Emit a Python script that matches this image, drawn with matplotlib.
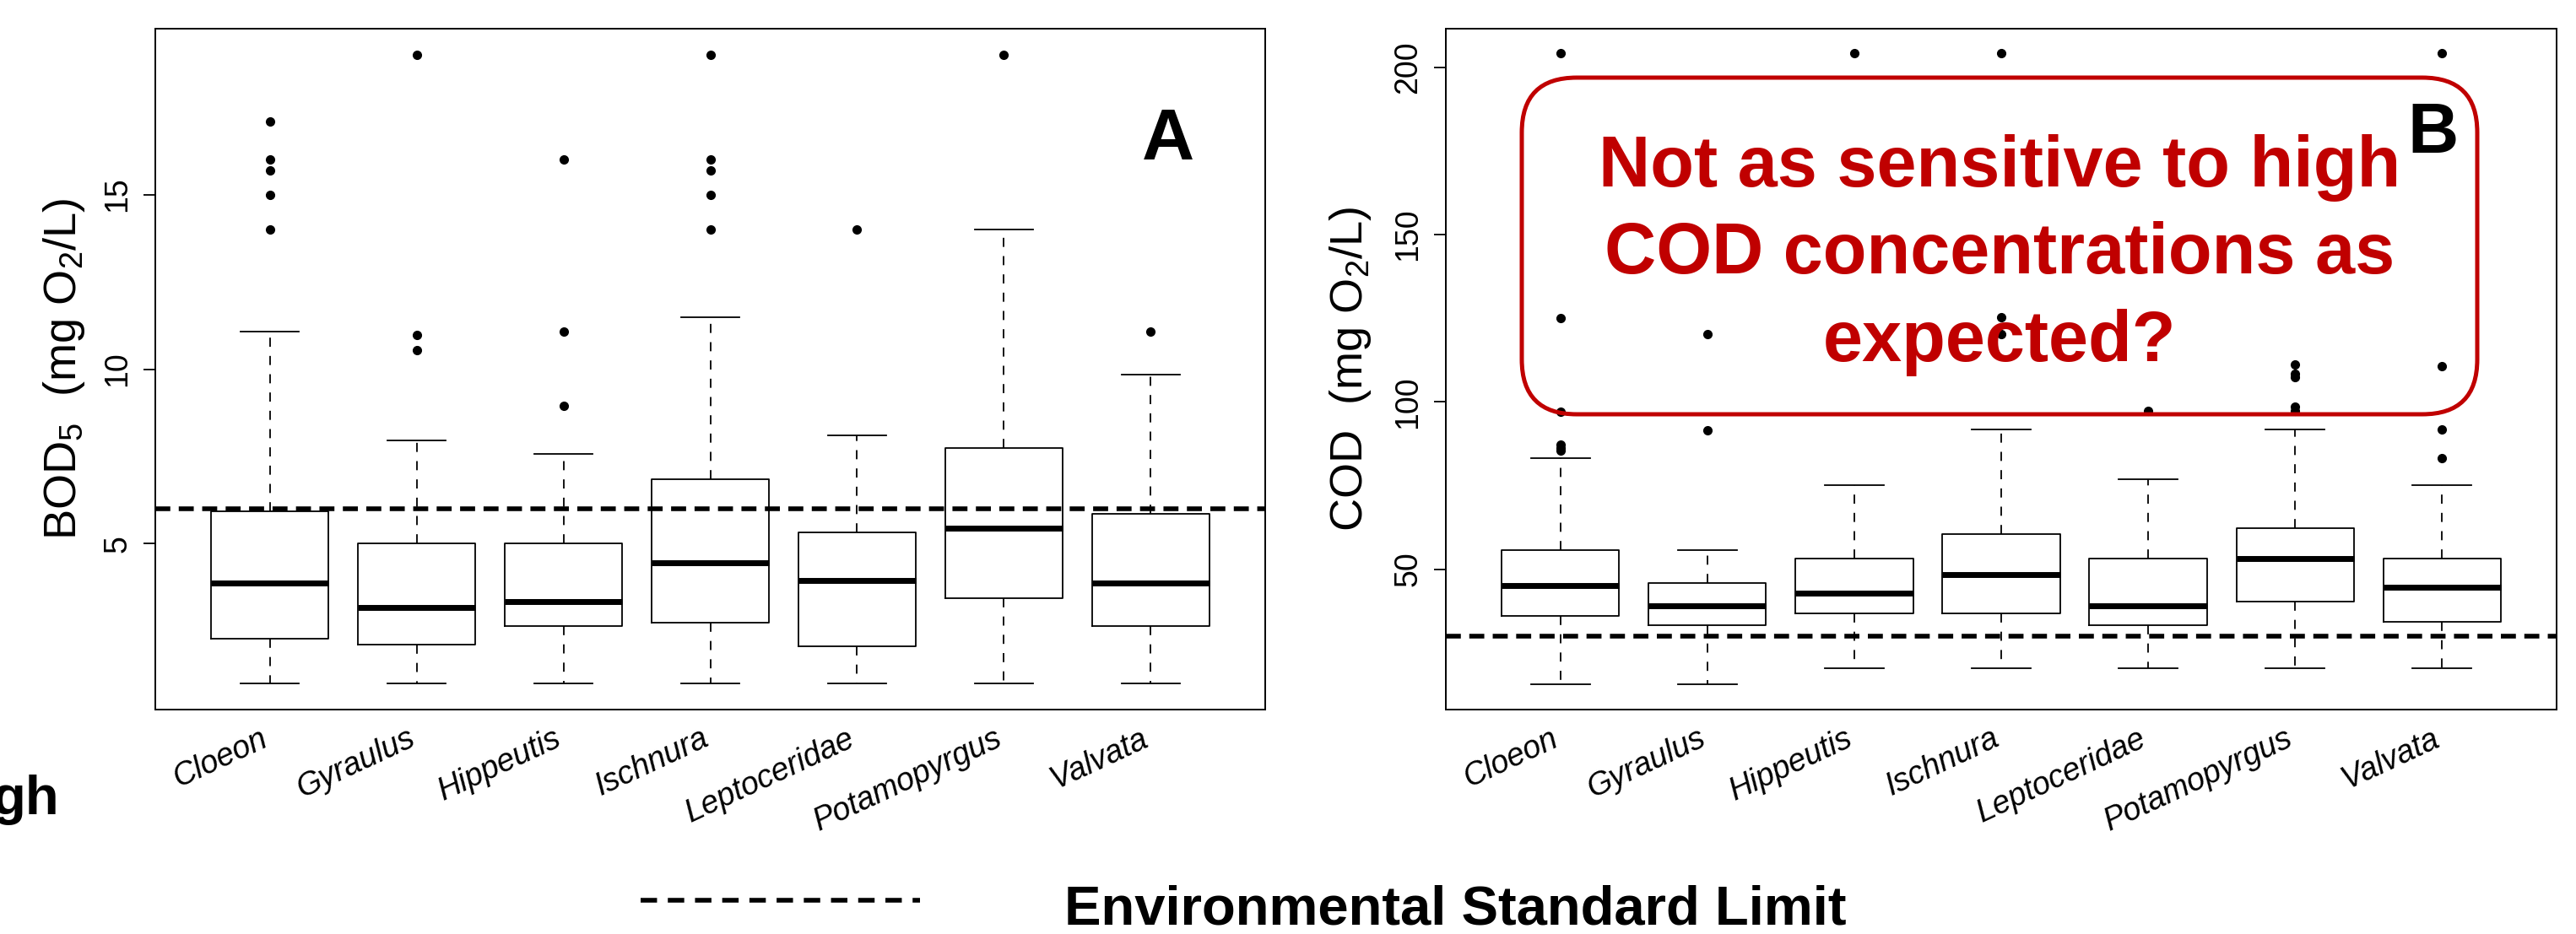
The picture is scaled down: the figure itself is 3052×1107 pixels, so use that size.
import matplotlib
matplotlib.use('Agg')
import matplotlib.pyplot as plt
from matplotlib.patches import FancyBboxPatch
from matplotlib.lines import Line2D
from matplotlib.transforms import IdentityTransform

plt.rcParams['font.family'] = ['Liberation Sans', 'DejaVu Sans']
plt.rcParams['mathtext.fontset'] = 'custom'
plt.rcParams['mathtext.rm'] = 'Liberation Sans'
plt.rcParams['mathtext.it'] = 'Liberation Sans:italic'

taxa = ['Cloeon', 'Gyraulus', 'Hippeutis', 'Ischnura', 'Leptoceridae', 'Potamopyrgus', 'Valvata']

# BOD5 (mg O2/L)
bod_lo = [1.0, 1.0, 1.0, 1.0, 1.0, 1.0, 1.0]
bod_q1 = [2.27, 2.1, 2.64, 2.74, 2.06, 3.45, 2.64]
bod_med = [3.87, 3.17, 3.34, 4.46, 3.94, 5.45, 3.87]
bod_q3 = [5.92, 5.0, 5.0, 6.85, 5.33, 7.73, 5.85]
bod_hi = [11.08, 7.97, 7.57, 11.49, 8.1, 14.0, 9.85]
bod_out = [[17.1, 16.0, 15.7, 15.0, 14.0], [19.0, 10.97, 10.55], [16.0, 11.08, 8.96],
           [19.0, 16.0, 15.7, 15.0, 14.0], [14.0], [19.0], [11.08]]
bod_limit = 6

# COD (mg O2/L)
cod_lo = [15.5, 15.5, 20.3, 20.3, 20.3, 20.3, 20.3]
cod_q1 = [36.1, 33.2, 36.7, 36.7, 33.2, 40.3, 34.3]
cod_med = [45.2, 39.1, 42.9, 48.3, 39.1, 53.2, 44.6]
cod_q3 = [55.7, 45.8, 53.2, 60.4, 53.2, 62.3, 53.2]
cod_hi = [83.2, 55.7, 75.2, 91.7, 76.8, 91.7, 75.2]
cod_out = [[204.3, 125.1, 97.1, 87.2, 86.2, 85.5], [120.3, 91.6], [204.3],
           [204.3, 125.4, 120.3], [97.4], [111.3, 108.5, 107.5, 98.6, 97.4],
           [204.3, 110.6, 91.7, 83.2]]
cod_limit = 30

W, H = 3052, 1107
fig = plt.figure(figsize=(W / 100, H / 100), dpi=100)

def panel(rect, lo, q1, med, q3, hi, out, limit, yticks, ylim, ylabel, labx):
    ax = fig.add_axes(rect)
    stats = [dict(whislo=a, q1=b, med=c, q3=d, whishi=e, fliers=f)
             for a, b, c, d, e, f in zip(lo, q1, med, q3, hi, out)]
    ax.bxp(stats, positions=range(1, len(taxa) + 1), widths=0.8, capwidths=0.4,
           boxprops=dict(color='black', lw=1.3),
           whiskerprops=dict(color='black', lw=1.3, linestyle=(0, (6, 6))),
           capprops=dict(color='black', lw=1.3),
           medianprops=dict(color='black', lw=5, solid_capstyle='butt'),
           flierprops=dict(marker='o', markerfacecolor='black', markeredgecolor='black',
                           markersize=7, linestyle='none'))
    ax.axhline(limit, color='black', lw=4, linestyle=(0, (3.2, 1.8)), zorder=5)
    ax.set_xlim(0.22, 7.78)
    ax.set_ylim(*ylim)
    ax.set_xticks(range(1, len(taxa) + 1))
    ax.set_xticklabels(taxa, rotation=25, ha='right', va='baseline',
                       rotation_mode='anchor', style='italic', fontsize=27)
    ax.tick_params(axis='x', length=0, pad=30)
    ax.set_yticks(yticks, labels=[str(v) for v in yticks], rotation=90, va='center')
    ax.tick_params(axis='y', length=10, width=1.3, labelsize=27, pad=9)
    ax.set_ylabel(ylabel, fontsize=39, va='center')
    ax.yaxis.set_label_coords(labx, 0.5)
    for s in ax.spines.values():
        s.set_linewidth(1.4)
    return ax

axA = panel([184 / W, 1 - 841 / H, 1315 / W, 807 / H], bod_lo, bod_q1, bod_med, bod_q3,
            bod_hi, bod_out, bod_limit, [5, 10, 15], (0.25, 19.75),
            r'BOD$_5$  (mg O$_2$/L)', -0.0825)
axB = panel([1713 / W, 1 - 841 / H, 1316 / W, 807 / H], cod_lo, cod_q1, cod_med, cod_q3,
            cod_hi, cod_out, cod_limit, [50, 100, 150, 200], (8, 211.6),
            r'COD  (mg O$_2$/L)', -0.0855)

fig.text(1384 / W, 1 - 189 / H, 'A', fontsize=62, fontweight='bold', ha='center', va='baseline')
fig.text(2883 / W, 1 - 181 / H, 'B', fontsize=60, fontweight='bold', ha='center', va='baseline')

# red rounded callout
box = FancyBboxPatch((1803, H - 491), 1132, 399, boxstyle='round,pad=0,rounding_size=65',
                     transform=IdentityTransform(), fill=False, edgecolor='#C00000', lw=3.6)
fig.add_artist(box)
note = ['Not as sensitive to high', 'COD concentrations as', 'expected?']
for line, base in zip(note, [221, 324, 428]):
    fig.text(2369 / W, 1 - base / H, line, color='#C00000', fontsize=61,
             fontweight='bold', ha='center', va='baseline')

# clipped text at the left edge
fig.text(70 / W, 1 - 965 / H, 'gh', fontsize=47, fontweight='bold', ha='right', va='baseline')

# legend for the dashed limit line
fig.add_artist(Line2D([759 / W, 1090 / W], [1 - 1067 / H, 1 - 1067 / H], color='black',
                      lw=4, linestyle=(0, (3.5, 2.3)), transform=fig.transFigure))
fig.text(1261 / W, 1 - 1096 / H, 'Environmental Standard Limit', fontsize=47,
         fontweight='bold', ha='left', va='baseline')

fig.savefig('out.png', dpi=100)
